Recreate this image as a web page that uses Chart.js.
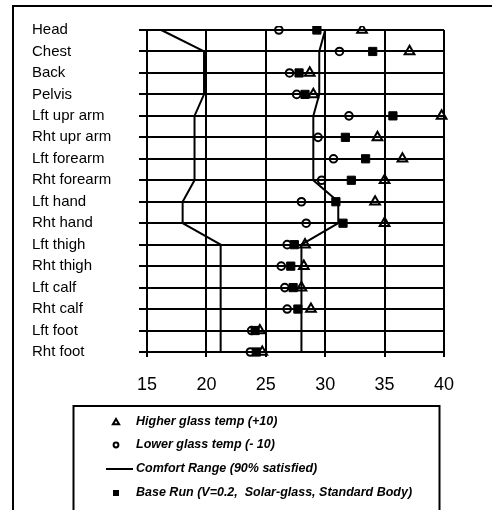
<!DOCTYPE html>
<html>
<head>
<meta charset="utf-8">
<script src="https://cdn.jsdelivr.net/npm/chart.js@4/dist/chart.umd.min.js"></script>
<style>
  html, body { margin: 0; padding: 0; background: #ffffff; }
  #wrap { position: relative; width: 492px; height: 510px; overflow: hidden; }
</style>
</head>
<body>
<div id="wrap"><canvas id="chart" width="492" height="510"></canvas></div>
<script>
// Body segments, top to bottom
const categories = ['Head', 'Chest', 'Back', 'Pelvis', 'Lft upr arm', 'Rht upr arm',
  'Lft forearm', 'Rht forearm', 'Lft hand', 'Rht hand', 'Lft thigh', 'Rht thigh',
  'Lft calf', 'Rht calf', 'Lft foot', 'Rht foot'];

// Equivalent temperatures per segment (°C)
const higherGlass = [33.1, 37.1, 28.7, 29.0, 39.8, 34.4, 36.5, 35.0, 34.2, 35.0, 28.3, 28.2, 28.0, 28.8, 24.5, 24.7];
const lowerGlass  = [26.1, 31.2, 27.0, 27.6, 32.0, 29.4, 30.7, 29.7, 28.0, 28.4, 26.8, 26.3, 26.6, 26.8, 23.8, 23.7];
const baseRun     = [29.3, 34.0, 27.8, 28.3, 35.7, 31.7, 33.4, 32.2, 30.9, 31.5, 27.4, 27.1, 27.3, 27.7, 24.1, 24.2];

// Comfort range bounds (90% satisfied)
const comfortLow  = [16.2, 19.8, 19.8, 19.8, 19.0, 19.0, 19.0, 19.0, 18.0, 18.0, 21.2, 21.2, 21.2, 21.2, 21.2, 21.2];
const comfortHigh = [30.0, 29.5, 29.5, 29.5, 29.0, 29.0, 29.0, 29.0, 31.1, 31.1, 28.0, 28.0, 28.0, 28.0, 28.0, 28.0];

// Axis ticks
const xTicks = [15, 20, 25, 30, 35, 40];

const legendLabels = {
  higher: 'Higher glass temp (+10)',
  lower: 'Lower glass temp (- 10)',
  comfort: 'Comfort Range (90% satisfied)',
  base: 'Base Run (V=0.2,  Solar-glass, Standard Body)'
};

const FONT = "'Liberation Sans', Arial, Helvetica, sans-serif";

const toPoints = vals => vals.map((v, i) => ({ x: v, y: categories[i] }));
const markerClip = { left: 10, top: 4, right: 10, bottom: 10 };

// Outer frame and boxed legend
const framePlugin = {
  id: 'frameAndLegend',
  afterDraw(chart) {
    const ctx = chart.ctx;
    ctx.save();
    ctx.strokeStyle = '#000';
    ctx.lineWidth = 2;
    // outer frame (runs off the right and bottom edges)
    ctx.beginPath();
    ctx.moveTo(13, 520);
    ctx.lineTo(13, 6);
    ctx.lineTo(500, 6);
    ctx.stroke();

    // legend box
    ctx.beginPath();
    ctx.moveTo(73.5, 520);
    ctx.lineTo(73.5, 406);
    ctx.lineTo(439.5, 406);
    ctx.lineTo(439.5, 520);
    ctx.stroke();

    const textX = 136;
    const mx = 116;
    const rows = [422, 445, 469, 493];
    ctx.fillStyle = '#000';
    ctx.font = 'italic bold 12.5px ' + FONT;
    ctx.textAlign = 'left';
    ctx.textBaseline = 'middle';

    // triangle
    ctx.lineWidth = 2;
    ctx.beginPath();
    const r = 3.6;
    const ty = rows[0] + 0.5;
    ctx.moveTo(mx, ty - r);
    ctx.lineTo(mx + r * 0.866, ty + r * 0.5);
    ctx.lineTo(mx - r * 0.866, ty + r * 0.5);
    ctx.closePath();
    ctx.stroke();
    ctx.fillText(legendLabels.higher, textX, rows[0]);

    // circle
    ctx.beginPath();
    ctx.arc(mx, rows[1], 2.4, 0, Math.PI * 2);
    ctx.stroke();
    ctx.fillText(legendLabels.lower, textX, rows[1]);

    // line
    ctx.beginPath();
    ctx.moveTo(106, rows[2]);
    ctx.lineTo(133, rows[2]);
    ctx.stroke();
    ctx.fillText(legendLabels.comfort, textX, rows[2]);

    // square
    ctx.fillRect(mx - 3, rows[3] - 3, 6, 6);
    ctx.fillText(legendLabels.base, textX, rows[3]);
    ctx.restore();
  }
};

new Chart(document.getElementById('chart'), {
  type: 'scatter',
  data: {
    datasets: [
      {
        label: legendLabels.higher,
        data: toPoints(higherGlass),
        pointStyle: 'triangle',
        pointRadius: 5.6,
        pointHoverRadius: 5.6,
        pointBorderWidth: 2,
        pointBorderColor: '#000',
        pointBackgroundColor: 'rgba(0,0,0,0)',
        clip: markerClip
      },
      {
        label: legendLabels.base,
        data: toPoints(baseRun),
        pointStyle: 'rect',
        pointRadius: 5.8,
        pointHoverRadius: 5.8,
        pointBorderWidth: 1,
        pointBorderColor: '#000',
        pointBackgroundColor: '#000',
        clip: markerClip
      },
      {
        label: legendLabels.lower,
        data: toPoints(lowerGlass),
        pointStyle: 'circle',
        pointRadius: 3.8,
        pointHoverRadius: 3.8,
        pointBorderWidth: 2,
        pointBorderColor: '#000',
        pointBackgroundColor: 'rgba(0,0,0,0)',
        clip: markerClip
      },
      {
        label: legendLabels.comfort,
        data: toPoints(comfortLow),
        showLine: true,
        borderColor: '#000',
        borderWidth: 2,
        pointRadius: 0,
        tension: 0,
        clip: 4
      },
      {
        label: legendLabels.comfort + ' upper',
        data: toPoints(comfortHigh),
        showLine: true,
        borderColor: '#000',
        borderWidth: 2,
        pointRadius: 0,
        tension: 0,
        clip: 4
      }
    ]
  },
  options: {
    responsive: false,
    animation: false,
    events: [],
    layout: { padding: { left: 32, top: 30, right: 48, bottom: 118 } },
    plugins: {
      legend: { display: false },
      tooltip: { enabled: false },
      title: { display: false }
    },
    scales: {
      x: {
        type: 'linear',
        position: 'bottom',
        min: xTicks[0],
        max: xTicks[xTicks.length - 1],
        afterBuildTicks(scale) { scale.ticks = xTicks.map(v => ({ value: v })); },
        afterFit(scale) { scale.height = 40; },
        ticks: {
          color: '#000',
          font: { family: FONT, size: 18 },
          padding: 17,
          maxRotation: 0
        },
        grid: { color: '#000', lineWidth: 2, tickLength: 5, drawTicks: true },
        border: { display: true, color: '#000', width: 2 }
      },
      y: {
        type: 'category',
        labels: categories,
        offset: false,
        afterFit(scale) { scale.width = 115; },
        ticks: {
          color: '#000',
          font: { family: FONT, size: 15 },
          crossAlign: 'far',
          padding: 4,
          autoSkip: false
        },
        grid: { color: '#000', lineWidth: 2, tickLength: 8, drawTicks: true },
        border: { display: true, color: '#000', width: 2 }
      }
    }
  },
  plugins: [framePlugin]
});
</script>
</body>
</html>
